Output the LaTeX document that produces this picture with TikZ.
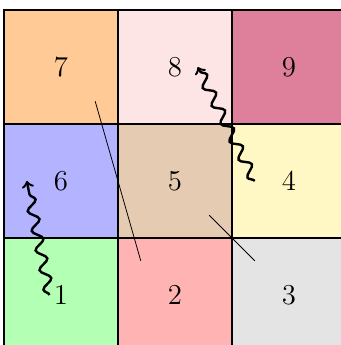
\documentclass[tikz,border=0pt]{standalone}
\usetikzlibrary{decorations.pathmorphing}
\definecolor{cOne}{RGB}{179,255,179}
\definecolor{cTwo}{RGB}{255,179,179}
\definecolor{cThree}{RGB}{228,228,228}
\definecolor{cFour}{RGB}{255,248,196}
\definecolor{cFive}{RGB}{229,203,178}
\definecolor{cSix}{RGB}{179,179,255}
\definecolor{cSeven}{RGB}{255,202,150}
\definecolor{cEight}{RGB}{253,229,229}
\definecolor{cNine}{RGB}{222,128,156}
\tikzset{
  cell/.style={draw=black, very thick, minimum size=2cm, inner sep=0pt, outer sep=0pt, font=\Large},
  wiggle/.style={very thick, ->, decorate, decoration={snake, post length=2pt}},
  plain/.style={thin}
}
\begin{document}
\begin{tikzpicture}[x=2cm,y=2cm]
\useasboundingbox (-0.035,0.061) rectangle (2.956,3.088);
\clip (-0.035,0.061) rectangle (2.956,3.088);
\node[cell, fill=cSeven] (c7) at (0.5,2.5) {7};
\node[cell, fill=cEight] (c8) at (1.5,2.5) {8};
\node[cell, fill=cNine]  (c9) at (2.5,2.5) {9};
\node[cell, fill=cSix]   (c6) at (0.5,1.5) {6};
\node[cell, fill=cFive]  (c5) at (1.5,1.5) {5};
\node[cell, fill=cFour]  (c4) at (2.5,1.5) {4};
\node[cell, fill=cOne]   (c1) at (0.5,0.5) {1};
\node[cell, fill=cTwo]   (c2) at (1.5,0.5) {2};
\node[cell, fill=cThree] (c3) at (2.5,0.5) {3};
\coordinate (a1) at (0.4,0.5);
\coordinate (a2) at (0.2,1.5);
\coordinate (b1) at (2.2,1.5);
\coordinate (b2) at (1.7,2.5);
\coordinate (l1) at (0.8,2.2);
\coordinate (l2) at (1.2,0.8);
\coordinate (m1) at (1.8,1.2);
\coordinate (m2) at (2.2,0.8);
\draw[plain] (l1) -- (l2);
\draw[plain] (m1) -- (m2);
\draw[wiggle] (a1) -- (a2);
\draw[wiggle] (b1) -- (b2);
\end{tikzpicture}
\end{document}
